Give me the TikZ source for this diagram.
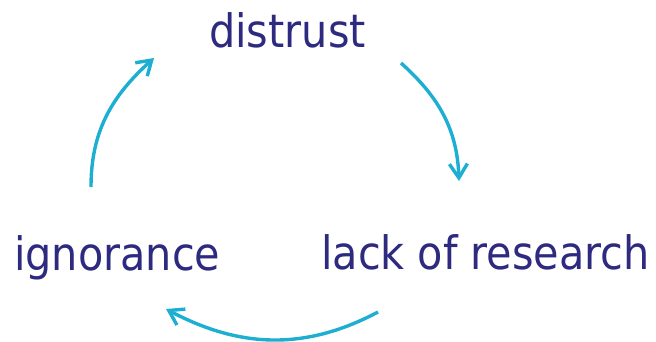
\documentclass[tikz,border=0pt]{standalone}
\usepackage{fontspec}
\setmainfont{DejaVu Sans Condensed}
\usetikzlibrary{arrows.meta}
\definecolor{wordink}{HTML}{2D2A80}
\definecolor{cycleblue}{HTML}{1CAFD1}
\tikzset{
  word/.style={text=wordink, inner sep=0pt, anchor=base west,
    font=\fontsize{46}{50}\selectfont},
  cyclearrow/.style={draw=cycleblue, line width=3.4pt,
    -{Straight Barb[length=14pt, width=18pt, line width=3.4pt]}}
}
\begin{document}
\begin{tikzpicture}[x=1pt, y=1pt]
  \useasboundingbox (0,0) rectangle (656,341);
  % the three stages of the cycle
  \node[word] (distrust)  at (209,294) {distrust};
  \node[word] (lack)      at (321,72)  {lack of research};
  \node[word] (ignorance) at (14,71)   {ignorance};
  % arrow end points between the stages
  \coordinate (d-out) at (401,278);
  \coordinate (l-in)  at (459,160);
  \coordinate (l-out) at (378,29);
  \coordinate (i-in)  at (166,32);
  \coordinate (i-out) at (91,154);
  \coordinate (d-in)  at (154,283);
  \draw[cyclearrow] (d-out) to[out=-42, in=92] (l-in);
  \draw[cyclearrow] (l-out) to[out=-152, in=-28] (i-in);
  \draw[cyclearrow] (i-out) to[out=90, in=-138] (d-in);
\end{tikzpicture}
\end{document}
